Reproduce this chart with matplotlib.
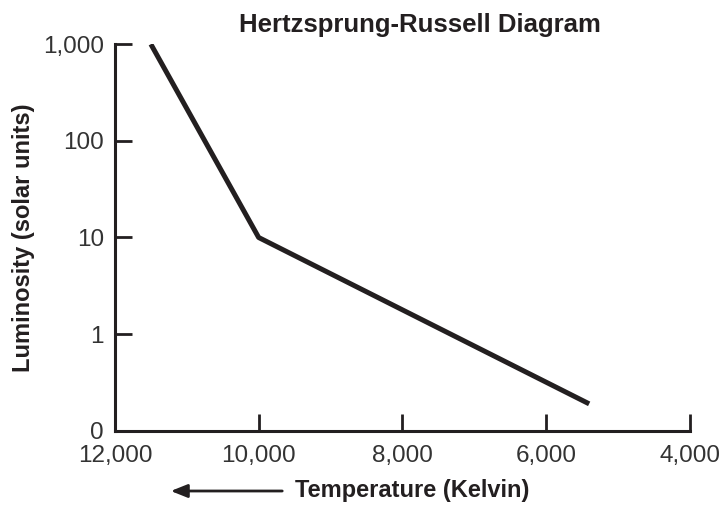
import matplotlib.pyplot as plt
from matplotlib.ticker import FixedLocator

plt.rcParams['font.family'] = ['Liberation Sans', 'DejaVu Sans']

# data
temperature = [11500, 10000, 5400]
luminosity = [1000, 10, 0.19]

x_ticks = [12000, 10000, 8000, 6000, 4000]
x_labels = ["12,000", "10,000", "8,000", "6,000", "4,000"]
y_ticks = [0.1, 1, 10, 100, 1000]
y_labels = ["0", "1", "10", "100", "1,000"]

ink = "#231f20"

fig = plt.figure(figsize=(7.23, 5.08), dpi=100)
ax = fig.add_axes([0.159, 0.152, 0.795, 0.761])

ax.plot(temperature, luminosity, color=ink, lw=3.6, solid_capstyle="butt")

ax.set_yscale("log")
ax.set_xlim(12000, 4000)
ax.set_ylim(0.1, 1000)

ax.xaxis.set_major_locator(FixedLocator(x_ticks))
ax.set_xticklabels(x_labels)
ax.yaxis.set_major_locator(FixedLocator(y_ticks))
ax.set_yticklabels(y_labels)
ax.yaxis.set_minor_locator(FixedLocator([]))

ax.tick_params(axis="both", direction="in", length=12, width=2, color=ink,
               labelsize=17.5, labelcolor="#333333")
ax.tick_params(axis="x", pad=10)
ax.tick_params(axis="y", pad=8)

for side in ["top", "right"]:
    ax.spines[side].set_visible(False)
for side in ["left", "bottom"]:
    ax.spines[side].set_linewidth(2.2)
    ax.spines[side].set_color(ink)

ax.set_ylabel("Luminosity (solar units)", fontsize=17, fontweight="bold",
              color=ink, labelpad=6)
ax.set_title("Hertzsprung-Russell Diagram", fontsize=18.5, fontweight="bold",
             color=ink, x=0.53, pad=9)

# x label with arrow pointing toward hotter stars
fig.text(295 / 723, 1 - 491 / 508, "Temperature (Kelvin)", fontsize=17,
         fontweight="bold", color=ink, ha="left", va="center")
ax.annotate("", xy=(168 / 723, 1 - 491 / 508), xycoords="figure fraction",
            xytext=(285 / 723, 1 - 491 / 508), textcoords="figure fraction",
            arrowprops=dict(arrowstyle="-|>,head_length=1.0,head_width=0.4",
                            color=ink, lw=2))

plt.savefig("out.png", dpi=100)
